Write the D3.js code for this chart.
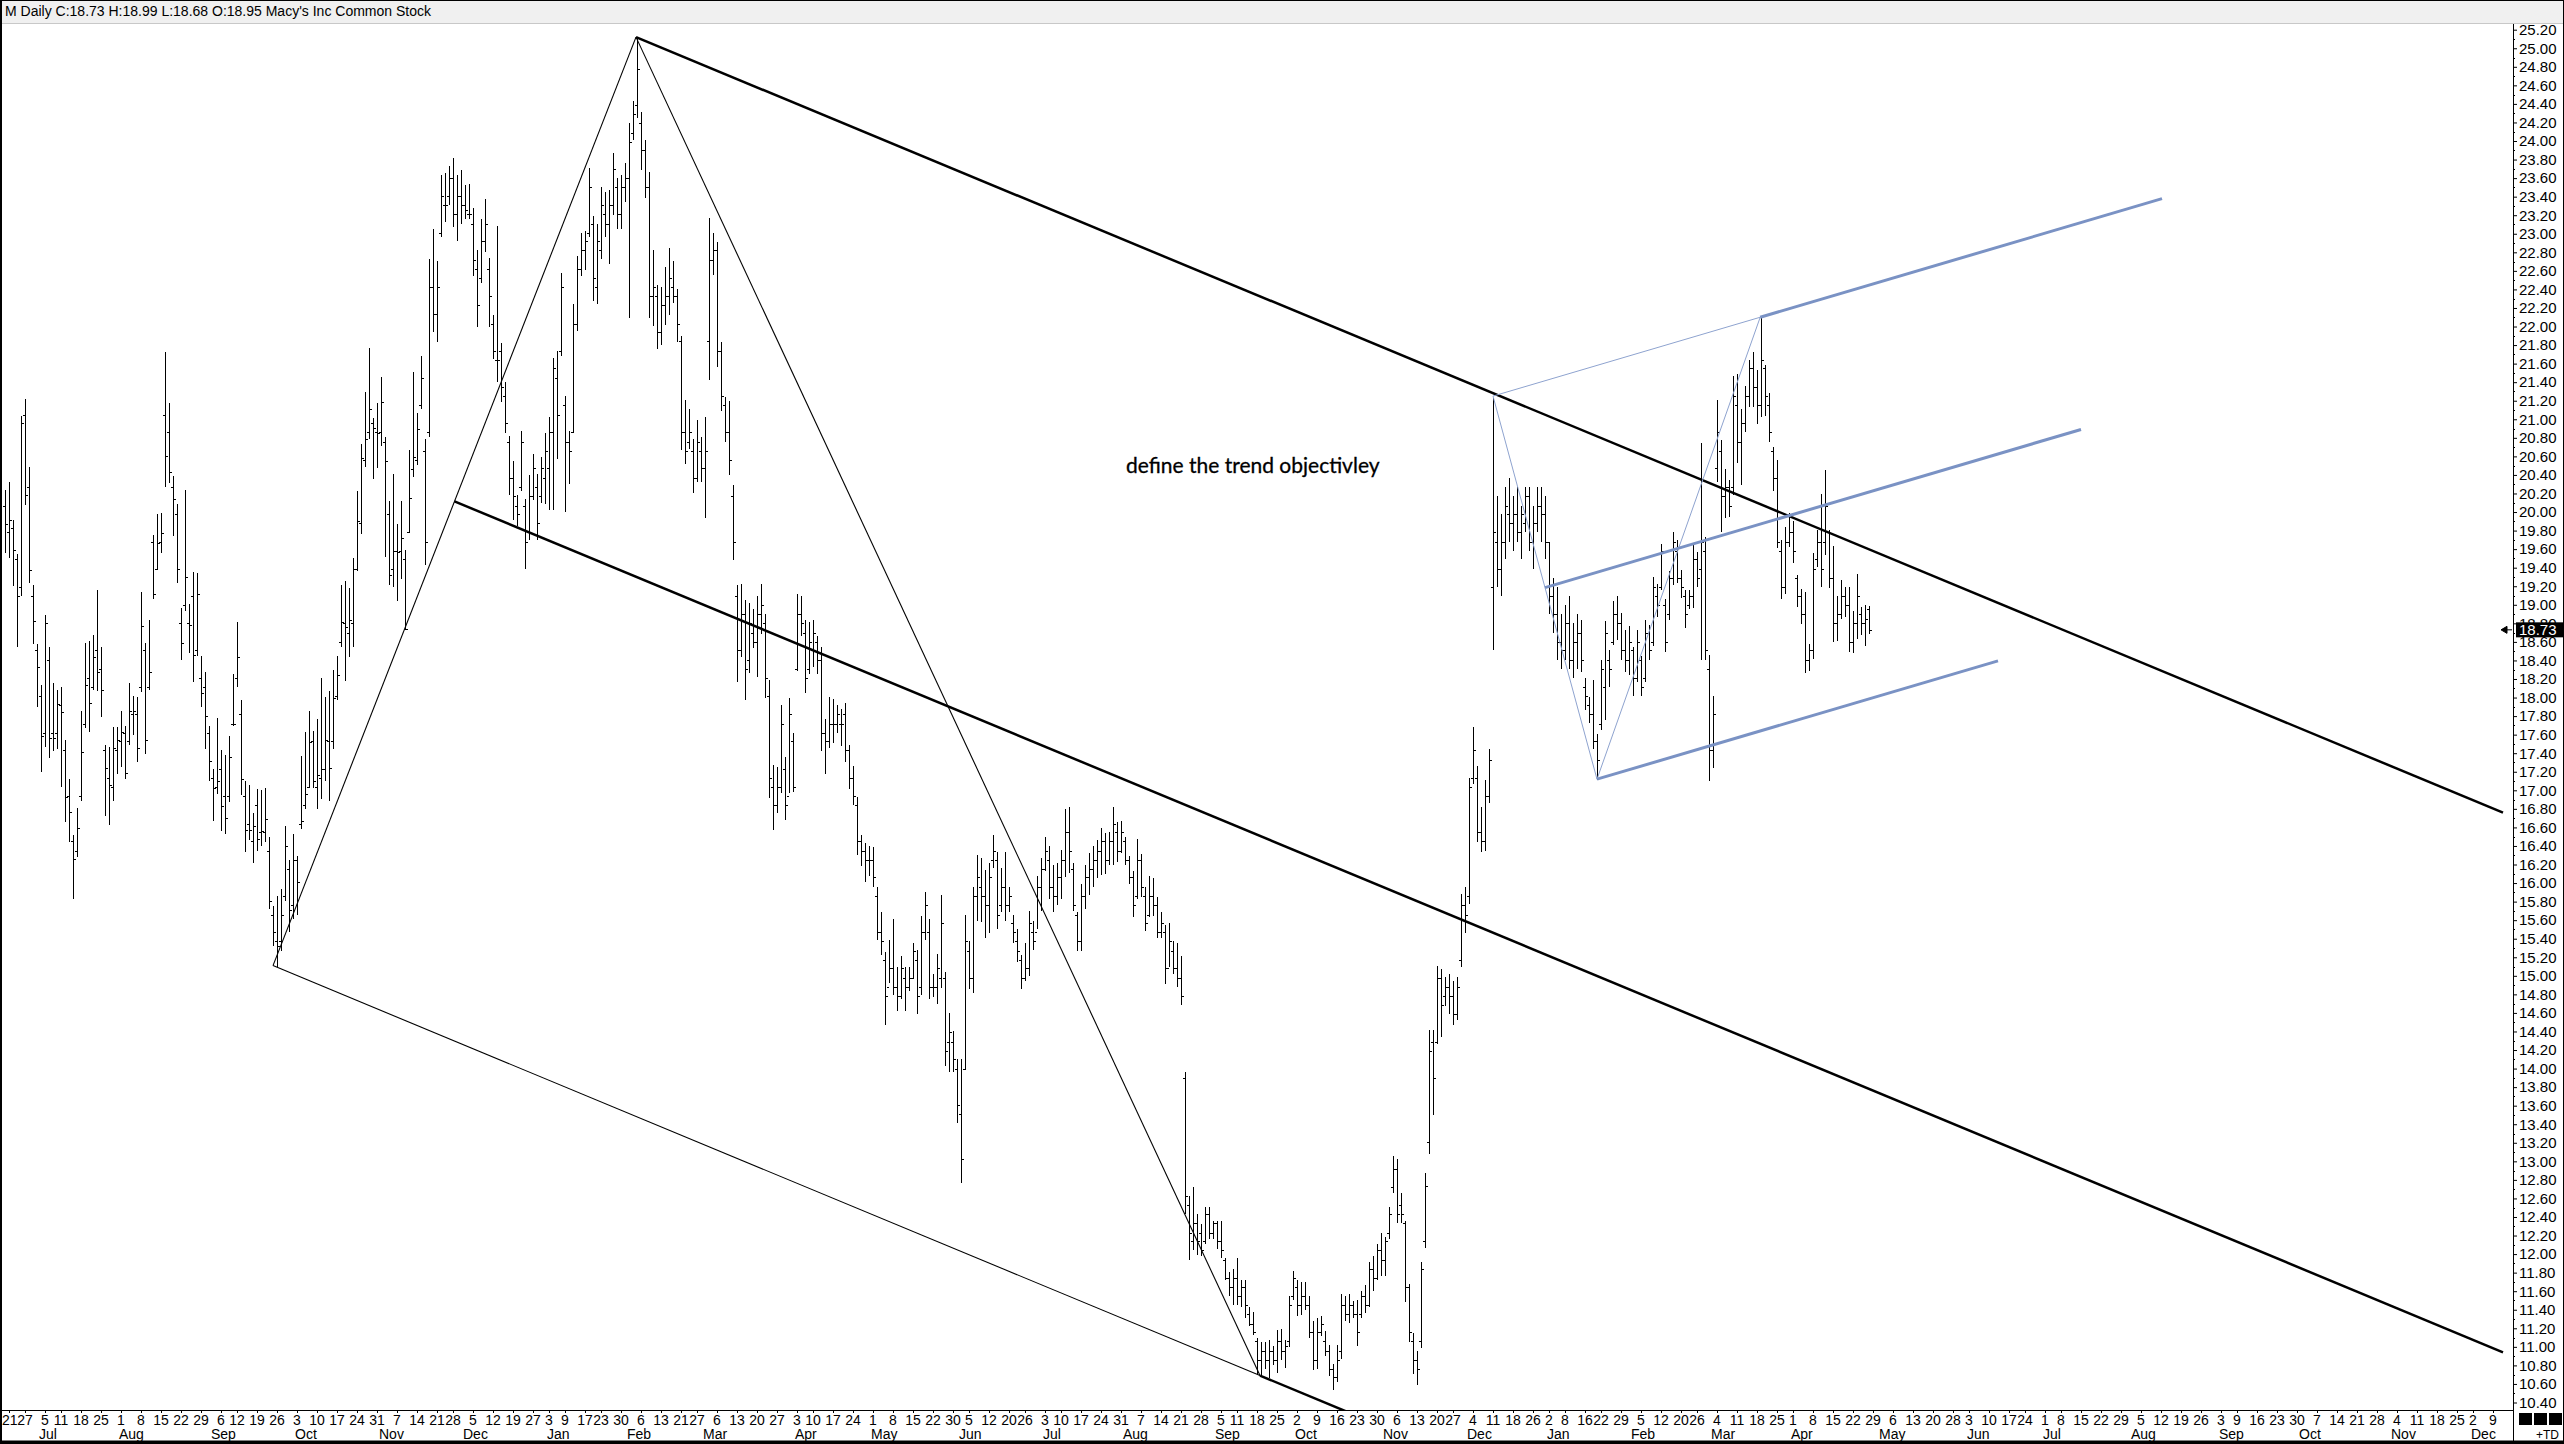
<!DOCTYPE html>
<html>
<head>
<meta charset="utf-8">
<script src="https://cdn.jsdelivr.net/npm/d3@7"></script>
<style>
body{margin:0;background:#fff;}
svg{display:block;}
</style>
</head>
<body>
<svg id="chart" width="2564" height="1444"></svg>
<script>
// M daily bars, first bar 2022-06-17, one value per trading day
var startDate = '2022-06-17';
var endDate = '2024-12-13';
var holidays = ['2022-06-20','2022-07-04','2022-09-05','2022-11-24','2022-12-26','2023-01-02','2023-01-16',
  '2023-02-20','2023-04-07','2023-05-29','2023-06-19','2023-07-04','2023-09-04','2023-11-23','2023-12-25',
  '2024-01-01','2024-01-15','2024-02-19','2024-03-29','2024-05-27','2024-06-19','2024-07-04','2024-09-02',
  '2024-11-28','2024-12-25'];

var highs = [
20.24,20.32,19.91,19.55,21.03,21.22,20.49,19.21,18.58,18.13,18.89,18.55,18.16,18.08,18.11,17.54,17.12,16.52,16.81,17.85,
18.59,18.61,18.67,19.16,18.55,17.49,17.47,17.68,17.68,17.86,17.69,18.16,18.02,18.01,19.14,18.59,18.84,19.75,19.98,19.99,
21.72,21.18,20.39,20.09,18.97,20.24,19.01,19.35,19.34,18.45,18.28,17.69,17.23,17.78,17.43,17.38,17.59,18.25,18.81,17.97,
17.10,17.06,16.76,17.01,17.00,17.02,16.50,15.75,15.86,15.94,16.61,16.25,16.53,16.29,17.37,17.63,17.86,17.64,17.77,18.21,
18.01,18.07,18.30,18.45,19.21,19.26,19.18,19.50,20.23,20.73,21.29,21.77,21.01,21.18,21.46,20.81,20.12,20.41,19.87,20.12,
19.59,20.67,21.51,21.07,21.68,20.79,22.73,23.05,22.71,23.63,23.65,23.73,23.82,23.63,23.69,23.53,23.54,23.28,22.83,23.16,
23.37,22.74,22.12,23.08,21.82,21.40,20.82,20.55,20.18,20.87,20.14,20.40,20.63,20.41,20.59,20.85,21.02,21.66,21.74,22.58,
21.25,20.87,22.24,22.76,23.01,23.03,23.71,23.19,23.10,23.50,23.45,23.47,23.87,23.60,23.63,23.76,24.19,24.43,25.11,24.31,
24.01,23.67,22.82,22.45,22.43,22.64,22.85,22.71,22.40,21.90,21.21,21.11,20.79,20.99,20.81,21.02,23.17,23.01,22.91,21.83,
21.24,21.20,20.29,19.21,19.22,19.05,19.02,18.96,19.09,19.22,18.90,18.19,17.27,17.25,17.92,17.36,18.00,17.62,19.12,19.09,
18.84,18.81,18.84,18.66,18.55,17.77,18.01,17.98,17.92,17.88,17.94,17.49,17.26,16.93,16.52,16.43,16.40,16.39,15.96,15.69,
15.26,15.39,15.61,15.09,15.21,15.09,15.09,15.35,15.28,15.65,15.90,15.61,15.02,15.23,15.87,15.04,14.60,14.40,14.10,14.10,
15.66,15.37,15.96,16.30,16.27,16.14,16.22,16.52,16.34,16.16,16.34,15.96,15.66,15.50,15.22,15.35,15.70,15.59,16.08,16.27,
16.50,16.40,16.20,16.22,16.36,16.80,16.82,16.22,15.69,15.99,16.20,16.32,16.40,16.46,16.59,16.54,16.55,16.82,16.66,16.67,
16.50,16.29,16.13,16.47,16.31,15.96,16.08,16.05,15.85,15.69,15.55,15.57,15.37,15.35,15.21,13.96,12.63,12.72,12.43,12.32,
12.51,12.51,12.36,12.36,12.36,11.96,11.81,11.84,11.96,11.72,11.72,11.43,11.38,11.10,11.05,11.05,11.07,11.01,11.18,11.19,
11.07,11.55,11.82,11.72,11.70,11.70,11.55,11.28,11.31,11.33,11.17,11.02,10.82,11.02,11.57,11.55,11.57,11.49,11.50,11.60,
11.67,11.92,11.98,12.11,12.23,12.18,12.51,13.06,13.02,12.66,12.36,11.68,11.15,10.95,11.92,12.87,14.42,14.42,15.11,15.07,
14.99,15.02,14.94,14.99,15.88,15.96,17.13,17.68,17.26,16.82,17.11,17.45,21.23,20.17,19.98,20.27,20.37,20.17,20.27,20.07,
20.27,20.27,20.07,20.27,20.27,20.17,19.68,19.29,19.19,18.90,19.00,19.09,18.80,18.90,18.84,18.21,18.01,18.19,17.61,18.41,
18.82,18.51,19.04,19.10,18.91,18.73,18.77,18.55,18.73,18.45,18.84,18.78,19.30,19.22,19.66,19.06,19.36,19.79,19.70,19.37,
19.16,19.16,19.66,19.57,20.74,19.73,18.46,18.02,21.21,20.78,20.46,20.35,21.47,21.49,21.11,21.36,21.64,21.73,21.53,22.10,
21.58,21.28,20.70,20.56,19.70,19.84,19.99,19.90,19.32,19.17,19.14,18.58,19.56,19.81,20.19,20.45,19.81,19.63,19.10,19.27,
19.19,19.19,18.93,19.33,18.98,19.00,18.99];

var lows = [
19.56,19.50,19.20,18.54,19.09,20.08,19.24,18.58,17.90,17.20,17.47,17.35,17.42,17.45,17.04,16.66,16.44,15.83,16.28,16.89,
17.67,17.63,18.08,18.07,17.79,16.72,16.63,16.89,17.18,17.25,17.12,17.49,17.60,17.30,18.06,17.39,18.08,19.06,19.37,19.56,
20.27,20.31,19.74,19.23,18.40,18.93,18.48,18.17,18.45,17.90,17.45,17.10,16.67,16.96,16.56,16.53,16.87,17.69,18.11,16.95,
16.34,16.46,16.22,16.35,16.40,16.44,15.72,15.32,15.10,15.27,15.81,15.47,15.61,15.66,16.58,16.80,17.03,17.02,16.80,16.91,
17.10,16.89,17.45,17.97,18.55,18.18,18.44,18.55,19.36,19.76,20.49,20.79,20.36,20.48,20.71,19.52,19.21,19.19,19.04,19.28,
18.73,19.77,20.38,20.51,21.11,19.43,20.81,21.94,21.83,22.97,23.13,23.31,23.07,22.92,23.10,23.16,23.16,22.54,22.00,22.47,
22.80,22.00,21.65,21.40,21.19,20.85,20.18,19.91,19.85,20.23,19.39,19.70,20.13,19.70,20.10,20.09,20.02,20.02,20.57,21.68,
20.00,20.30,20.85,21.95,22.55,22.61,22.97,22.28,22.24,22.73,22.96,22.67,23.20,23.05,23.05,23.34,22.09,24.01,24.25,23.69,
23.39,22.09,22.01,21.76,21.80,22.02,22.12,22.25,21.83,20.67,20.52,20.68,20.20,20.32,20.32,19.94,21.42,22.56,21.56,21.09,
20.75,20.40,19.48,18.17,18.44,17.97,18.26,18.53,18.22,18.69,17.99,16.92,16.57,16.75,16.97,16.68,16.97,16.98,18.29,18.66,
18.05,18.25,18.33,18.25,17.42,17.18,17.46,17.51,17.62,17.48,17.31,17.01,16.84,16.30,16.18,16.01,16.08,15.96,15.39,15.22,
14.47,14.92,14.79,14.62,14.75,14.62,14.84,14.97,14.59,14.79,15.39,14.75,14.77,14.70,14.87,14.03,13.96,13.96,13.41,12.77,
13.99,14.86,14.82,15.59,15.58,15.41,15.46,16.16,15.50,15.69,15.59,15.69,15.35,15.15,14.86,14.94,15.00,15.28,15.50,15.70,
16.13,15.83,15.69,15.76,15.83,16.07,16.11,15.70,15.27,15.27,15.72,15.87,15.96,16.05,16.09,16.10,16.19,16.20,16.23,16.32,
16.20,15.99,15.63,15.83,15.85,15.48,15.63,15.65,15.41,15.41,14.91,15.09,15.02,14.88,14.69,12.43,11.94,12.04,11.99,11.98,
12.11,12.16,12.16,12.06,11.96,11.72,11.55,11.45,11.45,11.43,11.31,11.22,11.13,10.71,10.69,10.76,10.66,10.80,10.72,10.86,
10.77,11.00,11.50,11.33,11.34,11.40,11.09,10.75,10.76,11.12,10.90,10.69,10.54,10.62,10.87,11.28,11.26,11.31,11.01,11.31,
11.36,11.43,11.60,11.72,11.76,11.76,12.16,12.66,12.34,12.34,11.48,11.05,10.71,10.59,10.99,12.07,13.08,13.50,14.27,14.34,
14.67,14.59,14.47,14.52,15.10,15.46,15.77,17.07,16.44,16.34,16.35,16.86,18.51,19.19,19.09,19.49,19.68,19.58,19.68,19.49,
19.78,19.58,19.39,19.78,19.68,19.49,18.90,18.70,18.41,18.31,18.41,18.31,18.21,18.31,18.28,17.87,17.73,17.44,17.11,17.65,
17.76,18.11,18.57,18.62,18.41,18.28,18.24,18.02,18.17,18.02,18.17,18.40,18.56,18.87,19.16,18.49,18.84,19.21,19.23,19.07,
18.75,18.95,18.97,19.19,18.41,18.41,17.10,17.24,20.32,19.79,19.94,19.95,20.18,20.53,20.29,20.86,21.13,21.13,20.95,21.02,
21.04,20.76,20.23,19.61,19.06,19.12,19.62,19.45,18.98,18.79,18.27,18.29,18.42,19.41,19.19,19.54,19.18,18.60,18.61,18.85,
18.87,18.49,18.48,18.63,18.67,18.56,18.68];

var opens = [
20.07,19.78,19.83,19.49,19.19,21.05,20.27,19.09,18.51,18.02,17.62,18.41,17.62,17.62,17.92,17.43,16.94,16.45,16.35,16.94,
17.72,18.21,18.11,18.51,18.31,17.43,17.13,17.04,17.43,17.53,17.62,17.53,17.82,17.82,18.11,18.51,18.11,19.68,19.39,19.68,
21.05,20.86,20.27,19.98,18.80,19.00,18.80,19.09,18.51,18.21,18.11,17.62,17.13,17.04,17.23,16.94,16.94,17.72,18.21,17.82,
16.94,16.64,16.45,16.84,16.55,16.55,16.35,15.66,15.37,15.37,15.86,16.15,15.76,16.25,16.64,16.84,17.04,17.53,17.04,17.13,
17.23,17.53,17.53,18.02,18.60,18.80,18.70,18.80,19.39,19.88,20.56,20.86,20.96,20.86,20.86,20.76,19.98,19.39,19.58,19.58,
19.49,19.78,20.46,20.56,21.15,20.66,20.86,22.43,22.13,23.01,23.31,23.41,23.60,23.21,23.41,23.31,23.21,23.11,22.62,22.52,
22.92,22.62,22.03,21.64,21.74,21.25,20.76,20.37,20.07,20.27,20.07,19.78,20.17,20.27,20.17,20.37,20.47,20.86,21.45,21.74,
21.15,20.76,20.86,22.03,22.62,22.82,23.01,23.11,22.43,22.82,23.21,23.11,23.31,23.50,23.21,23.50,23.60,24.09,24.39,24.19,
23.90,23.50,22.33,22.33,21.94,22.23,22.33,22.43,22.33,21.84,20.86,20.76,20.66,20.37,20.66,20.47,21.84,22.72,22.82,21.74,
21.15,20.86,20.17,19.09,18.51,18.90,18.41,18.70,18.60,18.90,18.80,18.02,17.04,16.84,17.04,17.23,16.94,17.53,18.31,18.90,
18.70,18.31,18.51,18.60,18.41,17.62,17.53,17.72,17.72,17.72,17.82,17.43,17.13,16.84,16.45,16.35,16.25,16.25,15.86,15.47,
15.17,14.88,15.08,14.88,14.78,14.98,14.88,14.98,15.17,14.88,15.47,15.47,14.88,14.88,14.98,14.98,14.29,14.29,14.00,13.51,
14.00,15.27,14.98,15.86,15.96,15.86,15.76,16.25,16.25,15.76,15.96,15.76,15.57,15.37,15.17,14.98,15.08,15.47,15.47,15.96,
16.15,16.25,15.96,15.86,16.06,16.25,16.55,16.15,15.66,15.37,15.86,16.06,16.15,16.25,16.35,16.45,16.25,16.45,16.55,16.35,
16.45,16.25,16.06,15.86,16.25,15.86,15.66,15.86,15.76,15.47,15.47,15.08,15.27,15.08,14.98,13.90,12.53,12.14,12.33,12.23,
12.14,12.43,12.23,12.33,12.14,11.94,11.74,11.65,11.74,11.55,11.65,11.35,11.25,11.06,10.86,10.96,10.86,10.96,10.86,11.06,
10.96,11.06,11.55,11.65,11.45,11.55,11.45,11.16,10.86,11.16,11.06,10.96,10.76,10.67,10.96,11.45,11.35,11.45,11.35,11.35,
11.55,11.45,11.84,11.74,12.04,11.94,12.23,12.72,12.92,12.53,12.33,11.65,11.06,10.86,11.06,12.14,13.21,14.29,14.29,14.98,
14.78,14.88,14.78,14.59,15.17,15.76,15.86,17.13,17.13,16.55,16.45,16.94,19.19,19.68,19.39,19.68,19.98,19.88,19.98,19.78,
19.88,20.17,19.68,19.88,20.07,19.98,19.68,19.09,18.90,18.60,18.51,18.80,18.41,18.60,18.70,18.11,17.92,17.82,17.53,17.72,
18.11,18.41,18.60,18.90,18.80,18.51,18.41,18.51,18.21,18.41,18.21,18.70,18.60,19.09,19.19,19.00,18.90,19.29,19.58,19.29,
19.09,19.00,19.09,19.49,19.39,19.58,18.31,17.43,20.47,20.66,20.17,20.27,20.27,21.15,20.76,20.96,21.25,21.55,21.35,21.15,
21.55,21.15,20.66,20.37,19.58,19.19,19.68,19.78,19.29,19.09,18.90,18.41,18.51,19.49,19.68,19.68,19.78,19.29,18.80,18.90,
19.09,19.00,18.60,18.80,18.90,18.80,18.95];

var closes = [
19.87,19.91,19.59,19.09,20.96,20.18,19.37,18.82,18.33,17.59,18.80,17.56,17.56,17.93,17.84,16.93,16.77,16.26,16.59,17.41,
18.14,17.94,18.44,18.28,18.08,17.24,17.06,17.46,17.54,17.63,17.19,17.86,17.86,17.46,18.77,17.54,18.28,19.12,19.67,19.77,
20.60,20.43,20.14,19.39,18.59,19.30,18.78,18.46,19.12,18.05,17.80,17.32,17.03,17.10,16.83,16.70,17.36,17.72,18.44,17.12,
16.57,16.57,16.62,16.48,16.56,16.69,15.81,15.47,15.32,15.66,16.40,15.71,16.25,16.01,16.67,16.96,17.52,17.10,17.17,17.23,
17.54,17.24,17.99,18.24,18.81,18.76,18.84,19.39,19.90,20.58,20.79,21.11,20.91,20.85,21.19,20.55,19.32,19.58,19.57,19.72,
18.74,20.15,20.59,20.90,21.45,19.68,22.43,22.13,22.43,23.41,23.31,23.60,23.21,23.41,23.31,23.26,23.21,22.72,22.23,22.92,
23.11,22.33,21.74,21.64,21.35,20.96,20.37,20.17,19.98,20.76,19.68,20.17,20.47,19.88,20.47,20.66,20.86,21.55,21.05,22.43,
20.76,20.66,22.03,22.62,22.82,22.92,23.50,22.52,22.92,23.31,23.11,23.31,23.70,23.21,23.50,23.60,23.99,24.29,24.78,23.90,
23.50,22.33,22.43,21.94,22.23,22.33,22.52,22.33,22.03,20.86,20.66,20.86,20.37,20.76,20.47,20.66,22.72,22.82,21.74,21.25,
20.86,20.56,19.68,18.51,18.90,18.31,18.80,18.60,18.90,19.00,18.21,17.13,16.84,17.04,17.72,16.84,17.82,17.04,18.90,18.80,
18.21,18.60,18.70,18.41,17.62,17.53,17.72,17.72,17.82,17.72,17.43,17.13,16.94,16.45,16.35,16.25,16.25,16.06,15.47,15.37,
14.78,15.08,14.88,14.78,15.08,14.88,14.98,15.27,14.78,15.47,15.76,14.88,14.88,15.08,15.57,14.19,14.39,14.10,13.61,13.02,
15.37,14.98,15.86,16.06,15.86,15.76,16.06,16.35,15.66,15.96,15.76,15.86,15.47,15.27,14.98,15.08,15.57,15.37,15.96,16.15,
16.35,15.96,15.86,16.06,16.25,16.55,16.35,15.76,15.37,15.86,16.06,16.15,16.25,16.35,16.45,16.25,16.45,16.64,16.35,16.55,
16.25,16.06,15.76,16.25,15.96,15.57,15.86,15.76,15.47,15.57,15.08,15.37,15.08,14.98,14.78,12.63,12.23,12.33,12.14,12.04,
12.43,12.23,12.33,12.14,12.04,11.74,11.65,11.74,11.55,11.65,11.45,11.25,11.16,10.86,10.96,10.86,10.96,10.86,11.06,10.96,
11.01,11.45,11.74,11.45,11.55,11.45,11.16,10.86,11.16,11.25,10.96,10.76,10.67,10.86,11.45,11.35,11.45,11.35,11.16,11.55,
11.45,11.84,11.74,12.04,11.94,12.14,12.43,12.92,12.43,12.43,11.65,11.16,10.86,10.76,11.84,12.73,14.19,13.90,14.98,14.69,
14.88,14.78,14.59,14.88,15.76,15.66,17.04,17.43,16.55,16.45,16.94,17.33,19.78,19.39,19.68,20.07,19.88,19.98,19.78,19.98,
20.17,19.68,19.88,20.07,19.98,19.68,19.09,18.90,18.60,18.51,18.80,18.41,18.60,18.70,18.41,18.02,17.82,17.53,17.33,18.31,
18.70,18.31,18.90,18.80,18.51,18.41,18.60,18.21,18.60,18.11,18.70,18.51,19.19,19.00,19.58,18.60,19.29,19.68,19.29,19.19,
18.90,19.09,19.49,19.29,19.68,18.51,17.43,17.82,20.86,20.17,20.27,20.07,21.25,20.76,20.96,21.25,21.55,21.35,21.15,21.64,
21.25,20.86,20.37,19.68,19.19,19.68,19.78,19.58,19.09,18.90,18.41,18.51,19.39,19.68,19.39,20.07,19.29,18.80,18.90,19.09,
19.00,18.60,18.80,19.09,18.80,18.85,18.73];

// drawn tools, anchors as [bar index, price]
var pivotA = [67, 15.11];
var pivotB = [157.75, 25.12];
var pivotD = [313.75, 10.69];
var channelEnd = 624.5;
var pivotE = [372, 21.25];
var pivotF = [398, 17.12];
var pivotG = [438.8, 22.10];
var forkEnds = {upper: 539.25, median: 519, lower: 498.25};
var noteText = 'define the trend objectivley';
var noteAt = [280.25, 20.42];
var titleText = "M Daily C:18.73 H:18.99 L:18.68 O:18.95 Macy's Inc Common Stock";
var lastPrice = 18.73;

var width = 2564, height = 1444;
var plotRight = 2513, plotTop = 23, plotBottom = 1410;

// trading calendar
var parse = d3.timeParse('%Y-%m-%d');
var fmt = d3.timeFormat('%Y-%m-%d');
var days = [];
var holidaySet = new Set(holidays);
var d = parse(startDate), stop = parse(endDate);
while(d <= stop){
	var wd = d.getDay();
	if(wd != 0 && wd != 6 && !holidaySet.has(fmt(d))) days.push(new Date(d));
	d = d3.timeDay.offset(d, 1);
}

var x = d3.scaleLinear().domain([0, 1]).range([5, 9]);
var y = d3.scaleLinear().domain([10.4, 25.2]).range([1402.5, 29.7]);

var svg = d3.select('#chart');
svg.append('rect').attr('width', width).attr('height', height).attr('fill', '#fff');

var defs = svg.append('defs');
defs.append('clipPath').attr('id', 'plotClip')
	.append('rect').attr('x', 0).attr('y', plotTop).attr('width', plotRight).attr('height', plotBottom - plotTop);

var plot = svg.append('g').attr('clip-path', 'url(#plotClip)');

// bars
var bars = plot.append('g').attr('stroke', '#000').attr('stroke-width', 1).attr('shape-rendering', 'crispEdges');
var idx = d3.range(highs.length);
bars.selectAll('line.hl').data(idx).enter().append('line')
	.attr('x1', function(i){ return Math.round(x(i)) + 0.5; })
	.attr('x2', function(i){ return Math.round(x(i)) + 0.5; })
	.attr('y1', function(i){ return y(highs[i]); })
	.attr('y2', function(i){ return y(lows[i]); });
bars.selectAll('line.op').data(idx).enter().append('line')
	.attr('x1', function(i){ return Math.round(x(i)) - 2; })
	.attr('x2', function(i){ return Math.round(x(i)); })
	.attr('y1', function(i){ return Math.round(y(opens[i])) + 0.5; })
	.attr('y2', function(i){ return Math.round(y(opens[i])) + 0.5; });
bars.selectAll('line.cl').data(idx).enter().append('line')
	.attr('x1', function(i){ return Math.round(x(i)) + 1; })
	.attr('x2', function(i){ return Math.round(x(i)) + 3; })
	.attr('y1', function(i){ return Math.round(y(closes[i])) + 0.5; })
	.attr('y2', function(i){ return Math.round(y(closes[i])) + 0.5; });

// channel tools
var path = d3.line().x(function(p){ return x(p[0]); }).y(function(p){ return y(p[1]); });
function drawSeg(p, color, w){
	plot.append('path').attr('d', path(p)).attr('fill', 'none').attr('stroke', color).attr('stroke-width', w);
}
var slopeAD = (pivotD[1] - pivotA[1]) / (pivotD[0] - pivotA[0]);
var pivotC = [(pivotA[0] + pivotB[0]) / 2, (pivotA[1] + pivotB[1]) / 2];
function along(p, slope, toX){ return [toX, p[1] + slope * (toX - p[0])]; }

drawSeg([pivotA, pivotB], '#000', 1.1);
drawSeg([pivotB, pivotD], '#000', 1.1);
drawSeg([pivotA, pivotD], '#000', 1.1);
drawSeg([pivotB, along(pivotB, slopeAD, channelEnd)], '#000', 2.5);
drawSeg([pivotC, along(pivotC, slopeAD, channelEnd)], '#000', 2.5);
drawSeg([pivotD, along(pivotD, slopeAD, channelEnd)], '#000', 2.5);

var blueThin = '#8ea3cf', blueThick = '#7a92c4';
var slopeEG = (pivotG[1] - pivotE[1]) / (pivotG[0] - pivotE[0]);
var pivotM = [(pivotE[0] + pivotF[0]) / 2, (pivotE[1] + pivotF[1]) / 2];
drawSeg([pivotE, pivotF], blueThin, 1);
drawSeg([pivotF, pivotG], blueThin, 1);
drawSeg([pivotE, pivotG], blueThin, 1);
drawSeg([pivotG, along(pivotG, slopeEG, forkEnds.upper)], blueThick, 3);
drawSeg([pivotM, along(pivotM, slopeEG, forkEnds.median)], blueThick, 3);
drawSeg([pivotF, along(pivotF, slopeEG, forkEnds.lower)], blueThick, 3);

plot.append('text').attr('x', x(noteAt[0])).attr('y', y(noteAt[1]))
	.attr('font-family', 'Lato, "Open Sans", sans-serif').attr('font-size', 21).attr('fill', '#000')
	.attr('stroke', '#000').attr('stroke-width', 0.3)
	.text(noteText);

// title bar
svg.append('rect').attr('x', 0).attr('y', 0).attr('width', width).attr('height', plotTop).attr('fill', '#f0f0f0');
svg.append('text').attr('x', 5).attr('y', 16)
	.attr('font-family', '"Liberation Sans Narrow", "Liberation Sans", sans-serif').attr('font-size', 14).attr('fill', '#000')
	.text(titleText);

// price axis
var axisG = svg.append('g').attr('transform', 'translate(' + plotRight + ',0)');
var majors = d3.range(104, 253, 2).map(function(v){ return v / 10; });
var minors = d3.range(105, 252, 2).map(function(v){ return v / 10; });
axisG.call(d3.axisRight(y).tickValues(majors).tickFormat(d3.format('.2f')).tickSize(4).tickPadding(2))
	.call(function(g){ g.select('.domain').remove(); })
	.call(function(g){ g.selectAll('text').attr('font-family', '"Liberation Sans", Arial, sans-serif').attr('font-size', 15).attr('fill', '#000'); });
axisG.selectAll('line.minor').data(minors).enter().append('line').attr('class', 'minor')
	.attr('x1', 0).attr('x2', 2).attr('y1', function(v){ return Math.round(y(v)) + 0.5; }).attr('y2', function(v){ return Math.round(y(v)) + 0.5; })
	.attr('stroke', '#000');

// last price tag
var ly = y(lastPrice);
svg.append('rect').attr('x', plotRight + 3).attr('y', ly - 7.5).attr('width', 48).attr('height', 15).attr('fill', '#000');
svg.append('text').attr('x', plotRight + 6).attr('y', ly + 5.5)
	.attr('font-family', '"Liberation Sans", Arial, sans-serif').attr('font-size', 15).attr('fill', '#fff').text(lastPrice.toFixed(2));
svg.append('path').attr('d', 'M' + (plotRight - 12) + ',' + ly + 'l6,-3.5v7z M' + (plotRight - 7) + ',' + ly + 'h6')
	.attr('fill', '#000').attr('stroke', '#000').attr('stroke-width', 1);

// date axis
var weekTicks = [], monthTicks = [];
days.forEach(function(dt, i){
	if(i == 0) return;
	var prev = days[i - 1];
	if(d3.timeMonday.floor(dt) > d3.timeMonday.floor(prev)) weekTicks.push(i);
	if(dt.getMonth() != prev.getMonth()) monthTicks.push(i);
});
var dateG = svg.append('g').attr('font-family', '"Liberation Sans Narrow", "Liberation Sans", sans-serif').attr('font-size', 14).attr('fill', '#000');
dateG.selectAll('text.day').data(weekTicks).enter().append('text')
	.attr('x', function(i, k){ return k == 0 ? 2 : x(i); }).attr('y', 1425)
	.attr('text-anchor', function(i, k){ return k == 0 ? 'start' : 'middle'; })
	.text(function(i){ return days[i].getDate(); });
dateG.selectAll('text.mon').data(monthTicks).enter().append('text')
	.attr('x', function(i){ return x(i) - 2; }).attr('y', 1439)
	.text(function(i){ return d3.timeFormat('%b')(days[i]); });
svg.selectAll('line.wk').data(weekTicks).enter().append('line')
	.attr('x1', function(i){ return Math.round(x(i)) + 0.5; }).attr('x2', function(i){ return Math.round(x(i)) + 0.5; })
	.attr('y1', plotBottom).attr('y2', plotBottom + 3).attr('stroke', '#000');

// frame
svg.append('line').attr('x1', 0).attr('x2', plotRight).attr('y1', plotBottom + 0.5).attr('y2', plotBottom + 0.5).attr('stroke', '#000');
svg.append('line').attr('x1', plotRight + 0.5).attr('x2', plotRight + 0.5).attr('y1', plotTop).attr('y2', height).attr('stroke', '#000');
svg.append('line').attr('x1', 0).attr('x2', width).attr('y1', plotTop + 0.5).attr('y2', plotTop + 0.5).attr('stroke', '#c8c8c8');
svg.append('rect').attr('x', 0.5).attr('y', 0.5).attr('width', width - 1).attr('height', height - 1)
	.attr('fill', 'none').attr('stroke', '#000').attr('stroke-width', 1);
svg.append('line').attr('x1', 1).attr('x2', 1).attr('y1', 0).attr('y2', height).attr('stroke', '#000').attr('stroke-width', 2);
svg.append('line').attr('x1', 0).attr('x2', width).attr('y1', height - 2).attr('y2', height - 2).attr('stroke', '#000').attr('stroke-width', 3);

// corner boxes
[0, 1, 2].forEach(function(k){
	svg.append('rect').attr('x', plotRight + 6 + k * 15).attr('y', 1413).attr('width', 13).attr('height', 12).attr('fill', '#000');
});
svg.append('text').attr('x', width - 5).attr('y', 1439).attr('text-anchor', 'end')
	.attr('font-family', '"Liberation Sans Narrow", "Liberation Sans", sans-serif').attr('font-size', 12).text('+TD');
</script>
</body>
</html>
